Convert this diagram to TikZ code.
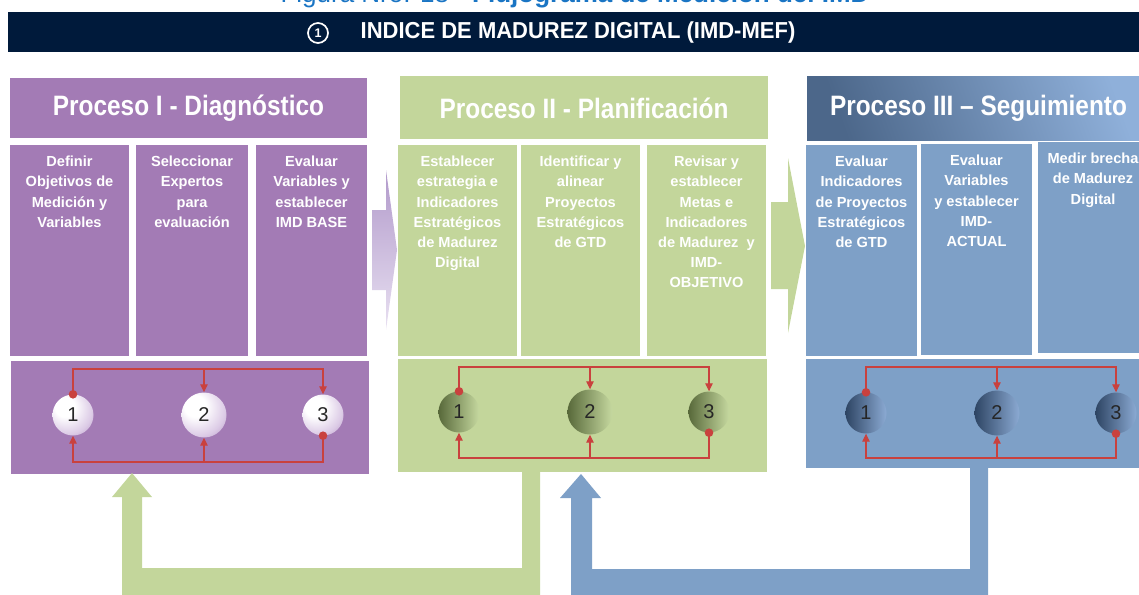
\documentclass[tikz,border=0pt]{standalone}
\usepackage{fontspec}
\usepackage{graphicx}
\setmainfont{Liberation Sans}
\usetikzlibrary{arrows.meta,calc}
\definecolor{navy}{HTML}{001A3B}
\definecolor{purp}{HTML}{A37BB5}
\definecolor{grn}{HTML}{C3D69B}
\definecolor{blu}{HTML}{7EA0C7}
\definecolor{bluedark}{HTML}{4C678A}
\definecolor{bluelight}{HTML}{8FB0DA}
\definecolor{redl}{HTML}{C9413E}
\definecolor{capblue}{HTML}{1A75C4}
\definecolor{grndark}{HTML}{58693A}
\definecolor{grnlight}{HTML}{C6D9A0}
\definecolor{bballdark}{HTML}{2E4564}
\definecolor{bballlight}{HTML}{8BAAD3}
\definecolor{arrowtop}{HTML}{B29ACB}
\definecolor{arrowbot}{HTML}{E8E0F1}
\definecolor{pballmid}{HTML}{DCCBE6}
\definecolor{pballdark}{HTML}{9C72B0}
\pgfdeclareradialshading{pball}{\pgfpoint{-12bp}{12bp}}{color(0bp)=(white);color(12bp)=(white);color(30bp)=(pballmid);color(50bp)=(pballdark);color(70bp)=(pballdark)}
\newcommand{\hdrtxt}[1]{\scalebox{1}[1.15]{#1}}
\begin{document}
\begin{tikzpicture}[x=1pt,y=-1pt,
  blk/.style={draw=none,inner sep=0pt,minimum width=#1},
  hdrtext/.style={text=white,font=\fontsize{24.4}{26}\selectfont\bfseries},
  subtext/.style={anchor=north,text=white,align=center,inner sep=0pt,
    font=\fontsize{14.6}{20.2}\selectfont\bfseries},
  ball/.style={circle,inner sep=0pt,minimum size=#1,text=black!85,
    font=\fontsize{20}{20}\selectfont},
  redline/.style={draw=redl,line width=1.2pt},
  redarrow/.style={redline,-{Triangle[length=8pt,width=7.5pt]}},
  dot/.style={fill=redl}
]
\useasboundingbox (0,0) rectangle (1139,594);
\clip (0,0) rectangle (1139,594);

% caption (cut at top, as in the reference)
\node[anchor=base,inner sep=0pt,text=capblue,font=\fontsize{26}{26}\selectfont] (cap) at (575,2.5)
  {Figura Nro. 18 - \textbf{Flujograma de Medición del IMD}};

% title bar
\node[blk=1140pt,minimum height=40pt,fill=navy] (bar) at (578,32) {};
\node[circle,draw=white,line width=1.7pt,minimum size=20pt,inner sep=0pt,text=white,
  font=\fontsize{12.5}{12.5}\selectfont\bfseries] (one) at (318,33) {1};
\node[text=white,font=\fontsize{22}{22}\selectfont\bfseries,inner sep=0pt] (title) at (578,33)
  {\scalebox{1}[1.05]{INDICE DE MADUREZ DIGITAL (IMD-MEF)}};

% ---------- Proceso I ----------
\node[blk=357pt,minimum height=60pt,fill=purp] (h1) at (188.5,108) {};
\node[hdrtext] (h1t) at (188.5,108) {\hdrtxt{Proceso I - Diagnóstico}};
\node[blk=119pt,minimum height=211pt,fill=purp] (b11) at (69.5,250.5) {};
\node[blk=112pt,minimum height=211pt,fill=purp] (b12) at (192,250.5) {};
\node[blk=111pt,minimum height=211pt,fill=purp] (b13) at (311.5,250.5) {};
\node[subtext] (t11) at (69.5,156) {Definir\\Objetivos de\\Medición y\\Variables};
\node[subtext] (t12) at (192,156) {Seleccionar\\Expertos\\para\\evaluación};
\node[subtext] (t13) at (311.5,156) {Evaluar\\Variables y\\establecer\\IMD BASE};
\node[blk=358pt,minimum height=113pt,fill=purp] (pan1) at (190,417.5) {};

% ---------- Proceso II ----------
\node[blk=368pt,minimum height=63pt,fill=grn] (h2) at (584,107.5) {};
\node[hdrtext] (h2t) at (584,108) {\hdrtxt{Proceso II - Planificación}};
\node[blk=119pt,minimum height=211pt,fill=grn] (b21) at (457.5,250.5) {};
\node[blk=119pt,minimum height=211pt,fill=grn] (b22) at (580.5,250.5) {};
\node[blk=119pt,minimum height=211pt,fill=grn] (b23) at (706.5,250.5) {};
\node[subtext] (t21) at (457.5,156) {Establecer\\estrategia e\\Indicadores\\Estratégicos\\de Madurez\\Digital};
\node[subtext] (t22) at (580.5,156) {Identificar y\\alinear\\Proyectos\\Estratégicos\\de GTD};
\node[subtext] (t23) at (706.5,156) {Revisar y\\establecer\\Metas e\\Indicadores\\de Madurez~ y\\IMD-\\OBJETIVO};
\node[blk=369pt,minimum height=113pt,fill=grn] (pan2) at (582.5,415.5) {};

% ---------- Proceso III ----------
\node[blk=343pt,minimum height=64pt,left color=bluedark,right color=bluelight,shading angle=110] (h3) at (978.5,108) {};
\node[hdrtext] (h3t) at (978.5,108) {\hdrtxt{Proceso III – Seguimiento}};
\node[blk=111pt,minimum height=211pt,fill=blu] (b31) at (861.5,250.5) {};
\node[blk=111pt,minimum height=211pt,fill=blu] (b32) at (976.5,249.5) {};
\node[blk=110pt,minimum height=211pt,fill=blu] (b33) at (1093,247.5) {};
\node[subtext] (t31) at (861.5,156) {Evaluar\\Indicadores\\de Proyectos\\Estratégicos\\de GTD};
\node[subtext] (t32) at (976.5,155) {Evaluar\\Variables\\y establecer\\IMD-\\ACTUAL};
\node[subtext] (t33) at (1093,153) {Medir brecha\\de Madurez\\Digital};
\node[blk=344pt,minimum height=109pt,fill=blu] (pan3) at (978,413.5) {};

% ---------- side arrows ----------
\shade[top color=arrowtop,bottom color=arrowbot]
  (372,210) -- (386,210) -- (386,170) -- (397,250) -- (386,330) -- (386,290) -- (372,290) -- cycle;
\fill[grn]
  (771,202) -- (788,202) -- (788,158) -- (805,246) -- (788,333) -- (788,289) -- (771,289) -- cycle;

% ---------- feedback arrows ----------
\fill[grn] (540,472) -- (540,600) -- (122,600) -- (122,497) -- (112,497) -- (132,473)
  -- (152,497) -- (142,497) -- (142,568) -- (522,568) -- (522,472) -- cycle;
\fill[blu] (988,468) -- (988,600) -- (571,600) -- (571,498) -- (560,498) -- (581,474)
  -- (601,498) -- (592,498) -- (592,569) -- (970,569) -- (970,468) -- cycle;

% ---------- cycles: Proceso I ----------
\node[ball=41pt,shading=pball] (c11) at (73,415) {1};
\node[ball=45pt,shading=pball] (c12) at (204,415) {2};
\node[ball=41pt,shading=pball] (c13) at (323,415) {3};
\coordinate (u13) at (323,369);
\coordinate (u12) at (204,369);
\coordinate (d11) at (73,462);
\coordinate (d12) at (204,462);
\draw[redarrow] (c11.north) |- (u13) -- (c13.north);
\draw[redarrow] (u12) -- (c12.north);
\draw[redarrow] (c13.south) |- (d11) -- (c11.south);
\draw[redarrow] (d12) -- (c12.south);
\fill[dot] (c11.north) circle[radius=4.3pt];
\fill[dot] (c13.south) circle[radius=4.3pt];

% ---------- cycles: Proceso II ----------
\node[ball=41pt,left color=grndark,right color=grnlight] (c21) at (459,412) {1};
\node[ball=45pt,left color=grndark,right color=grnlight] (c22) at (590,412) {2};
\node[ball=41pt,left color=grndark,right color=grnlight] (c23) at (709,412) {3};
\coordinate (u23) at (709,367);
\coordinate (u22) at (590,367);
\coordinate (d21) at (459,458);
\coordinate (d22) at (590,458);
\draw[redarrow] (c21.north) |- (u23) -- (c23.north);
\draw[redarrow] (u22) -- (c22.north);
\draw[redarrow] (c23.south) |- (d21) -- (c21.south);
\draw[redarrow] (d22) -- (c22.south);
\fill[dot] (c21.north) circle[radius=4.3pt];
\fill[dot] (c23.south) circle[radius=4.3pt];

% ---------- cycles: Proceso III ----------
\node[ball=41pt,left color=bballdark,right color=bballlight] (c31) at (866,413) {1};
\node[ball=45pt,left color=bballdark,right color=bballlight] (c32) at (997,413) {2};
\node[ball=41pt,left color=bballdark,right color=bballlight] (c33) at (1116,413) {3};
\coordinate (u33) at (1116,367);
\coordinate (u32) at (997,367);
\coordinate (d31) at (866,458);
\coordinate (d32) at (997,458);
\draw[redarrow] (c31.north) |- (u33) -- (c33.north);
\draw[redarrow] (u32) -- (c32.north);
\draw[redarrow] (c33.south) |- (d31) -- (c31.south);
\draw[redarrow] (d32) -- (c32.south);
\fill[dot] (c31.north) circle[radius=4.3pt];
\fill[dot] (c33.south) circle[radius=4.3pt];
\end{tikzpicture}
\end{document}
